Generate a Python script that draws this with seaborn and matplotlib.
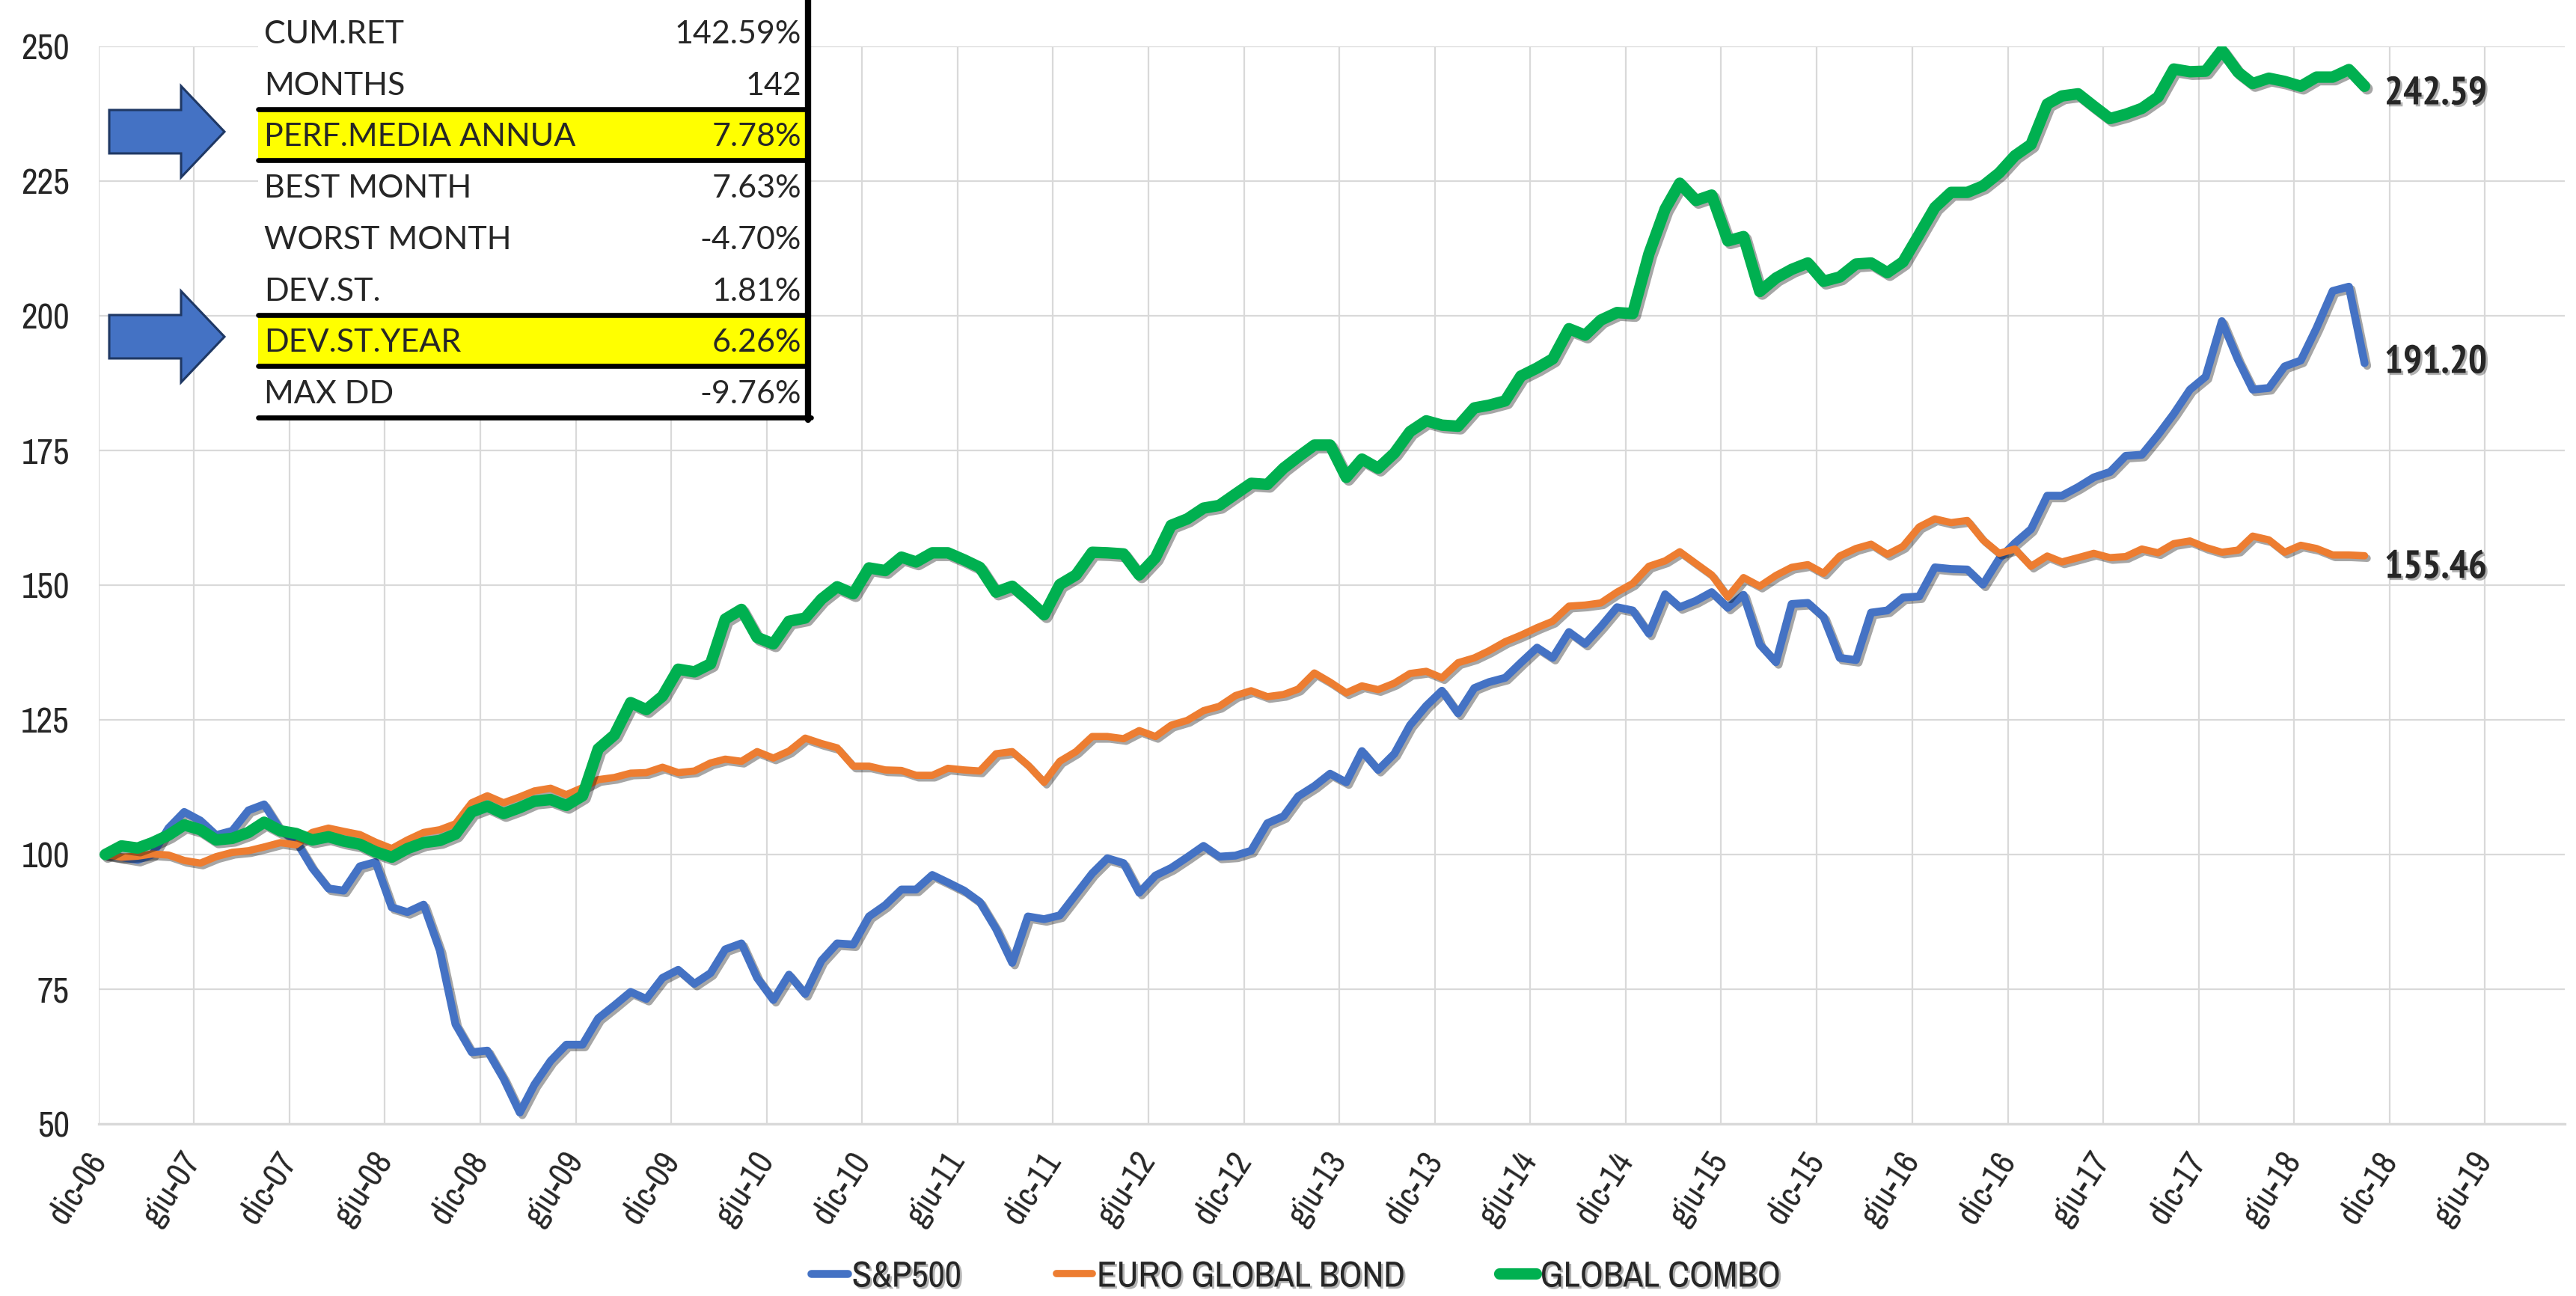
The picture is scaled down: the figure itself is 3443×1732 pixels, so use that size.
import os
import matplotlib
matplotlib.use('Agg')
import matplotlib.pyplot as plt
import matplotlib.patheffects as pe
from matplotlib import font_manager as fm
from matplotlib.patches import Rectangle, Polygon
from matplotlib.lines import Line2D
import pandas as pd
import seaborn as sns

# monthly index levels, dic-06 = 100
sp500 = [
    100.0, 99.5, 99.0, 100.0, 104.9, 107.9, 106.3, 103.6, 104.4, 108.2,
    109.3, 104.6, 102.5, 97.5, 93.7, 93.3, 97.8, 98.6, 90.2, 89.3,
    90.7, 82.2, 68.5, 63.3, 63.6, 58.4, 52.1, 57.3, 61.7, 64.7,
    64.7, 69.6, 72.0, 74.5, 73.2, 77.1, 78.6, 76.0, 78.0, 82.4,
    83.5, 77.1, 73.0, 77.7, 74.1, 80.3, 83.5, 83.3, 88.5, 90.6,
    93.5, 93.5, 96.2, 94.8, 93.3, 91.2, 86.2, 79.9, 88.5, 88.0,
    88.7, 92.6, 96.5, 99.3, 98.4, 92.9, 96.1, 97.5, 99.5, 101.6,
    99.6, 99.8, 100.7, 105.8, 107.1, 110.8, 112.7, 115.0, 113.4, 119.2,
    115.7, 118.7, 124.0, 127.6, 130.4, 126.2, 130.9, 132.0, 132.8, 135.6,
    138.4, 136.5, 141.3, 139.1, 142.3, 145.9, 145.3, 141.0, 148.3, 145.9,
    147.1, 148.7, 145.8, 148.2, 139.0, 135.7, 146.5, 146.7, 144.1, 136.5,
    136.1, 144.9, 145.3, 147.7, 147.9, 153.3, 153.0, 152.9, 150.1, 154.9,
    157.8, 160.4, 166.6, 166.6, 168.2, 170.0, 171.0, 174.0, 174.2, 177.9,
    181.8, 186.3, 188.7, 199.0, 191.8, 186.3, 186.6, 190.6, 191.7, 197.7,
    204.6, 205.4, 191.20]

euro_bond = [
    100.0, 99.5, 99.7, 100.1, 99.9, 98.9, 98.4, 99.6, 100.4, 100.7,
    101.4, 102.2, 101.8, 104.1, 104.9, 104.3, 103.7, 102.3, 101.1, 102.7,
    104.1, 104.6, 105.7, 109.6, 110.9, 109.6, 110.7, 111.8, 112.3, 111.1,
    112.4, 113.9, 114.3, 115.1, 115.2, 116.2, 115.2, 115.5, 117.0, 117.7,
    117.3, 119.1, 117.9, 119.2, 121.6, 120.6, 119.8, 116.4, 116.4, 115.7,
    115.6, 114.7, 114.7, 116.0, 115.7, 115.5, 118.7, 119.1, 116.6, 113.4,
    117.3, 119.1, 121.9, 121.9, 121.5, 123.0, 121.9, 124.0, 124.9, 126.7,
    127.5, 129.5, 130.4, 129.3, 129.7, 130.7, 133.7, 132.0, 130.0, 131.3,
    130.6, 131.8, 133.6, 134.0, 132.8, 135.6, 136.5, 137.8, 139.5, 140.7,
    142.1, 143.3, 146.1, 146.3, 146.7, 148.7, 150.3, 153.5, 154.5, 156.2,
    154.0, 151.9, 147.8, 151.4, 149.8, 151.8, 153.3, 153.8, 152.2, 155.4,
    156.8, 157.6, 155.7, 157.2, 160.8, 162.3, 161.6, 162.0, 158.4, 155.9,
    156.7, 153.5, 155.4, 154.3, 155.1, 155.9, 155.1, 155.3, 156.7, 156.0,
    157.7, 158.2, 157.0, 156.1, 156.5, 159.1, 158.4, 156.1, 157.4, 156.8,
    155.6, 155.6, 155.46]

global_combo = [
    100.0, 101.6, 101.2, 102.2, 103.6, 105.5, 104.6, 102.7, 103.0, 104.1,
    106.0, 104.4, 103.9, 102.7, 103.3, 102.5, 101.9, 100.5, 99.5, 101.1,
    102.2, 102.6, 103.8, 107.9, 109.0, 107.6, 108.7, 109.9, 110.2, 109.1,
    110.9, 119.6, 122.2, 128.2, 126.9, 129.4, 134.4, 133.9, 135.4, 143.7,
    145.5, 140.3, 139.1, 143.3, 143.9, 147.4, 149.7, 148.4, 153.2, 152.7,
    155.2, 154.3, 156.0, 156.0, 154.7, 153.3, 148.7, 149.8, 147.3, 144.5,
    150.1, 151.9, 156.1, 156.0, 155.8, 151.9, 155.1, 161.1, 162.3, 164.3,
    164.8, 166.9, 168.9, 168.7, 171.7, 173.8, 176.0, 176.0, 170.0, 173.4,
    171.7, 174.5, 178.5, 180.5, 179.7, 179.5, 182.9, 183.4, 184.2, 188.8,
    190.3, 192.0, 197.6, 196.4, 199.2, 200.6, 200.4, 211.5, 219.8, 224.6,
    221.4, 222.4, 213.9, 214.7, 204.5, 207.0, 208.6, 209.8, 206.4, 207.2,
    209.6, 209.8, 208.0, 210.0, 215.1, 220.1, 222.9, 222.9, 224.1, 226.5,
    229.7, 231.8, 239.3, 240.8, 241.2, 238.9, 236.6, 237.4, 238.5, 240.6,
    245.8, 245.3, 245.4, 249.3, 245.2, 243.1, 244.1, 243.5, 242.6, 244.3,
    244.3, 245.7, 242.59]

series_names = ['S&P500', 'EURO GLOBAL BOND', 'GLOBAL COMBO']
series_colors = ['#4472C4', '#ED7D31', '#00B050']
series_widths = [7.6, 7.0, 11.0]
label_dy = [0, -12, -8]  # points, nudges for end labels

y_ticks = [50, 75, 100, 125, 150, 175, 200, 225, 250]
tick_labels = ['dic-06', 'giu-07', 'dic-07', 'giu-08', 'dic-08', 'giu-09', 'dic-09',
               'giu-10', 'dic-10', 'giu-11', 'dic-11', 'giu-12', 'dic-12', 'giu-13',
               'dic-13', 'giu-14', 'dic-14', 'giu-15', 'dic-15', 'giu-16', 'dic-16',
               'giu-17', 'dic-17', 'giu-18', 'dic-18', 'giu-19']

stat_labels = ['CUM.RET', 'MONTHS', 'PERF.MEDIA ANNUA', 'BEST MONTH',
               'WORST MONTH', 'DEV.ST.', 'DEV.ST.YEAR', 'MAX DD']
stat_values = ['142.59%', '142', '7.78%', '7.63%', '-4.70%', '1.81%', '6.26%', '-9.76%']
highlight_rows = [2, 6]

sns.set_style('white')
names = {f.name for f in fm.fontManager.ttflist}
TABLE_FONT = 'Lato' if 'Lato' in names else 'DejaVu Sans'
plt.rcParams['font.family'] = ['Liberation Sans', 'DejaVu Sans']


# the chart uses a narrow Arial; look for a narrow / condensed sans face on the box
def find_font(bold):
    for key in ('sansnarrow', 'narrow', 'sanscondensed', 'condensed'):
        for f in fm.fontManager.ttflist:
            fn = os.path.basename(f.fname).lower()
            if key not in fn or 'serif' in fn or 'mono' in fn:
                continue
            if 'italic' in fn or 'oblique' in fn:
                continue
            if ('bold' in fn) == bold:
                return fm.FontProperties(fname=f.fname)
    return fm.FontProperties(family='Liberation Sans', weight='bold' if bold else 'normal')


narrow = find_font(False)
narrow_bold = find_font(True)

W, H = 3443, 1732


def fx(x):
    return x / W


def fy(y):
    return 1 - y / H


def fp(base, size):
    p = base.copy()
    p.set_size(size)
    return p


fig = plt.figure(figsize=(W / 100, H / 100), dpi=100)
ax = fig.add_axes([fx(131.6), fy(1502), (3428 - 131.6) / W, (1502 - 62) / H])

dates = pd.date_range('2006-12-01', periods=len(sp500), freq='MS') + pd.Timedelta(days=13)
df = pd.DataFrame({'date': dates, series_names[0]: sp500,
                   series_names[1]: euro_bond, series_names[2]: global_combo})

line_shadow = [pe.SimpleLineShadow(offset=(2.5, -2.5), shadow_color='black', alpha=0.35), pe.Normal()]
text_shadow = [pe.SimplePatchShadow(offset=(2, -2), shadow_rgbFace='black', alpha=0.3), pe.Normal()]

for i, name in enumerate(series_names):
    sns.lineplot(data=df, x='date', y=name, color=series_colors[i], linewidth=series_widths[i],
                 ax=ax, legend=False, solid_joinstyle='round', solid_capstyle='round',
                 path_effects=line_shadow, zorder=3 + i)
    last = df[name].iloc[-1]
    ax.annotate(f'{last:.2f}', xy=(df['date'].iloc[-1], last), xytext=(19, label_dy[i]),
                textcoords='offset points', ha='left', va='center',
                fontproperties=fp(narrow_bold, 38), path_effects=text_shadow)

ax.set_xlim(pd.Timestamp('2006-12-01'), pd.Timestamp('2019-11-01'))
ax.set_ylim(50, 250)
ax.set_yticks(y_ticks)
ax.set_xticks(pd.date_range('2006-12-01', periods=len(tick_labels), freq='6MS'))
ax.set_xticklabels(tick_labels, rotation=57, ha='right', va='center', rotation_mode='anchor')
ax.set_xlabel('')
ax.set_ylabel('')
ax.grid(True, color='#D9D9D9', linewidth=1.6)
for s in ['top', 'right', 'left']:
    ax.spines[s].set_visible(False)
ax.spines['bottom'].set_color('#D9D9D9')
ax.spines['bottom'].set_linewidth(2.4)
ax.tick_params(axis='x', length=10, width=1.6, color='#D9D9D9', pad=20)
ax.tick_params(axis='y', length=0, pad=28)
for t in ax.get_xticklabels():
    t.set_fontproperties(fp(narrow, 33))
for t in ax.get_yticklabels():
    t.set_fontproperties(fp(narrow, 34))

# legend at the bottom
handles = [Line2D([], [], color=c, lw=w, solid_capstyle='round')
           for c, w in zip(series_colors, series_widths)]
leg = fig.legend(handles, series_names, loc='center', bbox_to_anchor=(0.503, fy(1706)),
                 ncol=3, frameon=False, prop=fp(narrow, 35), handlelength=1.0,
                 handletextpad=0.12, columnspacing=2.6)
for t in leg.get_texts():
    t.set_path_effects(text_shadow)

# stats table top-left
tx0, tx1 = 345, 1080
row_top, row_h = 8, 68.75
fig.add_artist(Rectangle((fx(tx0), fy(561)), (tx1 - tx0) / W, 561 / H,
                         transform=fig.transFigure, facecolor='white', edgecolor='none', zorder=5))
for i, (lab, val) in enumerate(zip(stat_labels, stat_values)):
    top = row_top + i * row_h
    if i in highlight_rows:
        fig.add_artist(Rectangle((fx(tx0), fy(top + row_h)), (tx1 - tx0) / W, row_h / H,
                                 transform=fig.transFigure, facecolor='#FFFF00',
                                 edgecolor='none', zorder=6))
        for yy in (top, top + row_h):
            fig.add_artist(Line2D([fx(tx0), fx(tx1)], [fy(yy), fy(yy)], color='black',
                                  lw=4.8, transform=fig.transFigure, zorder=7))
    cy = top + row_h / 2
    fig.text(fx(353), fy(cy), lab, family=TABLE_FONT, fontsize=31, ha='left',
             va='center_baseline', zorder=8)
    fig.text(fx(1071), fy(cy), val, family=TABLE_FONT, fontsize=31, ha='right',
             va='center_baseline', zorder=8)
fig.add_artist(Line2D([fx(tx0), fx(tx1 + 4)], [fy(558), fy(558)], color='black', lw=4.8,
                      transform=fig.transFigure, zorder=7))
fig.add_artist(Line2D([fx(tx1), fx(tx1)], [fy(0), fy(561)], color='black', lw=6,
                      transform=fig.transFigure, zorder=7))

# block arrows pointing to the highlighted rows
for cy in (176, 450):
    pts = [(146, cy - 29), (242, cy - 29), (242, cy - 61), (300, cy), (242, cy + 61),
           (242, cy + 29), (146, cy + 29)]
    fig.add_artist(Polygon([(fx(x), fy(y)) for x, y in pts], closed=True,
                           transform=fig.transFigure, facecolor='#4472C4',
                           edgecolor='#1F3864', lw=2.2, zorder=6))

fig.savefig('out.png', dpi=100, facecolor='white')
